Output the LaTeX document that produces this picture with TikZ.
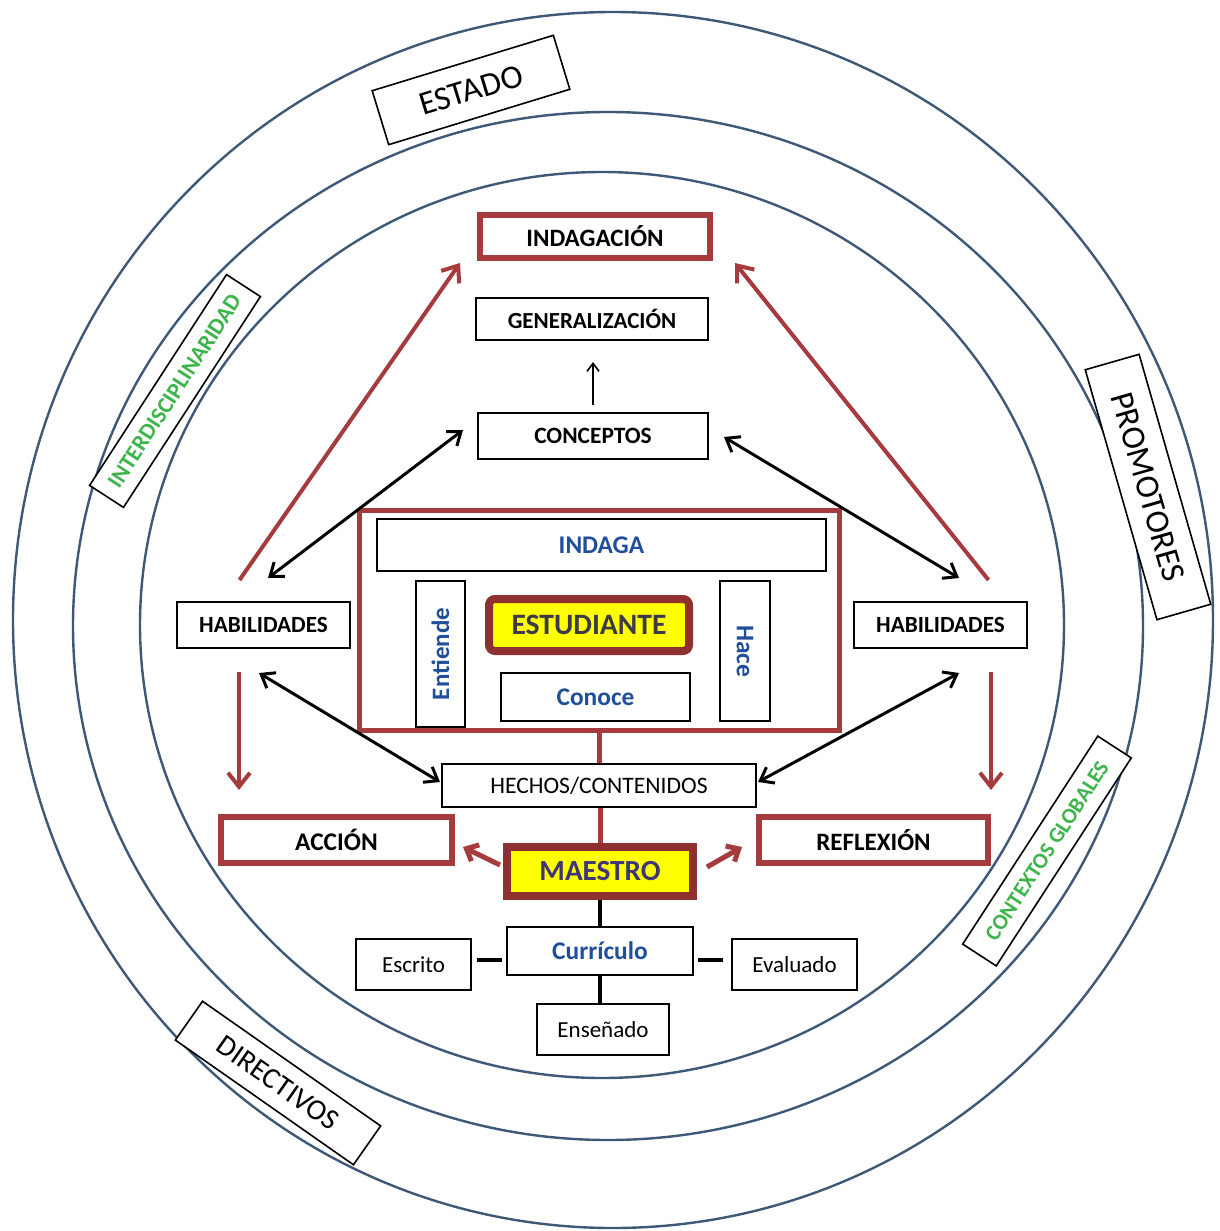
\documentclass[tikz,border=0pt]{standalone}
\usepackage{fontspec}
\setmainfont{Carlito}
\usetikzlibrary{arrows.meta,calc}
\definecolor{ring}{HTML}{3E5878}
\definecolor{rb}{HTML}{A53B3D}
\definecolor{rbd}{HTML}{8E2F30}
\definecolor{bl}{HTML}{1F4E9A}
\definecolor{gr}{HTML}{3DB54A}
\definecolor{ye}{HTML}{FFFF00}
\definecolor{mt}{HTML}{3D3575}
\definecolor{et}{HTML}{3C3A48}
\begin{document}
\begin{tikzpicture}[x=0.5pt,y=-0.5pt,
  ringline/.style={draw=ring,line width=1.2pt},
  bx/.style={draw=black,line width=1pt,fill=white,inner sep=0pt,text=black},
  rbox/.style={draw=rb,line width=3pt,fill=white,inner sep=0pt,text=black},
  ybox/.style={draw=rbd,line width=4pt,fill=ye,inner sep=0pt},
  ringlab/.style={draw=black,line width=0.8pt,fill=white,inner sep=0pt},
  bigred/.style={draw=rb,line width=2pt,-{Straight Barb[length=7pt,width=11pt]}},
  smallred/.style={draw=rb,line width=2.5pt,-{Straight Barb[length=5pt,width=9pt]}},
  dbl/.style={draw=black,line width=1.5pt,{Straight Barb[length=6pt,width=9pt]}-{Straight Barb[length=6pt,width=9pt]}},
  redlink/.style={draw=rb,line width=2.5pt},
  blklink/.style={draw=black,line width=2pt},
  bfs/.style={font=\fontsize{#1}{#1}\selectfont\bfseries},
  rfs/.style={font=\fontsize{#1}{#1}\selectfont}
]
\useasboundingbox[fill=white] (0,0) rectangle (1220,1231);

% rings
\draw[ringline] (613,620) ellipse [x radius=600, y radius=608];
\draw[ringline] (608,626) ellipse [x radius=535, y radius=514];
\draw[ringline] (602,625) ellipse [x radius=462, y radius=453];

% ring labels
\node[ringlab,rotate=17,minimum width=94.7pt,minimum height=28.2pt,rfs=16.7pt] (estado) at (471,90) {ESTADO};
\node[ringlab,rotate=-74,minimum width=130pt,minimum height=28pt,rfs=16.8pt] (promo) at (1148,487) {PROMOTORES};
\node[ringlab,rotate=-35,minimum width=108.7pt,minimum height=23.7pt,rfs=14.7pt] (direct) at (278,1083) {DIRECTIVOS};
\node[ringlab,rotate=57,minimum width=125.7pt,minimum height=20.2pt,bfs=11.5pt,text=gr] (inter) at (175,391) {INTERDISCIPLINARIDAD};
\node[ringlab,rotate=57,minimum width=124pt,minimum height=20pt,bfs=11pt,text=gr] (context) at (1047,851) {CONTEXTOS GLOBALES};

% top
\node[rbox,minimum width=115pt,minimum height=21.5pt,bfs=12.5pt] (indag) at (595,236.5) {INDAGACIÓN};
\node[bx,minimum width=116pt,minimum height=21pt,bfs=11.5pt] (gen) at (592,319) {GENERALIZACIÓN};
\node[bx,minimum width=115pt,minimum height=23pt,bfs=11.7pt] (conc) at (593,436) {CONCEPTOS};

% student frame
\node[draw=rb,line width=2.5pt,fill=white,minimum width=240pt,minimum height=110pt,inner sep=0pt] (frame) at (599.5,620.5) {};
\node[bx,minimum width=224.5pt,minimum height=26pt,bfs=12.7pt,text=bl] (indaga) at (601.5,545) {INDAGA};
\node[bx,rotate=90,minimum width=73pt,minimum height=24.5pt,bfs=12.5pt,text=bl] (entiende) at (440.5,654) {Entiende};
\node[bx,rotate=-90,minimum width=70pt,minimum height=25pt,bfs=12.7pt,text=bl] (hace) at (745,651) {Hace};
\node[ybox,rounded corners=3pt,minimum width=100pt,minimum height=26pt,bfs=14.8pt,text=et] (estud) at (589,625) {ESTUDIANTE};
\node[bx,minimum width=94.5pt,minimum height=24pt,bfs=12.7pt,text=bl] (conoce) at (595.5,697) {Conoce};

% sides
\node[bx,minimum width=86.5pt,minimum height=23pt,bfs=11.6pt] (habL) at (263.5,625) {HABILIDADES};
\node[bx,minimum width=86.5pt,minimum height=23pt,bfs=11.6pt] (habR) at (940.5,625) {HABILIDADES};
\node[bx,minimum width=157pt,minimum height=21.5pt,rfs=11.8pt] (hechos) at (599,785.5) {HECHOS/CONTENIDOS};
\node[rbox,minimum width=115.5pt,minimum height=23pt,bfs=12.7pt] (accion) at (336.5,840) {ACCIÓN};
\node[rbox,minimum width=114.5pt,minimum height=23pt,bfs=12.5pt] (reflex) at (873.5,840) {REFLEXIÓN};

% teacher and curriculum
\node[ybox,minimum width=93pt,minimum height=24.5pt,bfs=14.6pt,text=mt] (maestro) at (600,871.5) {MAESTRO};
\node[bx,minimum width=93pt,minimum height=24pt,bfs=12.7pt,text=bl] (curr) at (600,951) {Currículo};
\node[bx,minimum width=57.5pt,minimum height=25.5pt,rfs=11.5pt] (escrito) at (413.5,964.5) {Escrito};
\node[bx,minimum width=62.5pt,minimum height=25.5pt,rfs=11.5pt] (evaluado) at (794.5,964.5) {Evaluado};
\node[bx,minimum width=66pt,minimum height=25.5pt,rfs=11.5pt] (ensenado) at (603,1029.5) {Enseñado};

% connectors
\draw[draw=black,line width=0.8pt,-{Straight Barb[length=4pt,width=6pt]},shorten <=3.5pt,shorten >=10.5pt] (conc.north) -- (conc.north |- gen.south);
\draw[bigred] ($(habL.north)+(-24,-21)$) -- ($(indag.south west)+(-17,2)$);
\draw[bigred] ($(habR.north)+(48,-21)$) -- ($(indag.south east)+(22,2)$);
\draw[dbl] ($(habL.north)+(4.5,-23)$) -- ($(conc.west)+(-14,-6)$);
\draw[dbl] ($(habR.north)+(18.5,-23)$) -- ($(conc.east)+(15,1)$);
\draw[dbl] ($(habL.south)+(-4.5,24)$) -- ($(hechos.west)+(-1,-3.5)$);
\draw[dbl] ($(habR.south)+(18.5,24)$) -- ($(hechos.east)+(1,-3.5)$);
\draw[bigred] ($(habL.south)+(-24.5,23)$) -- ($(accion.north)+(-97.5,-24)$);
\draw[bigred] ($(habR.south)+(50.5,23)$) -- ($(reflex.north)+(117.5,-24)$);
\draw[redlink] (frame.south) -- (frame.south |- hechos.north);
\draw[redlink] (hechos.south -| maestro.north) -- (maestro.north);
\draw[smallred] ($(maestro.west)+(-3,-6.5)$) -- ($(accion.east)+(8,7)$);
\draw[smallred] ($(maestro.east)+(10,-4.5)$) -- ($(reflex.west)+(-14,7)$);
\draw[blklink] (maestro.south) -- (curr.north);
\draw[blklink] (curr.south) -- (curr.south |- ensenado.north);
\draw[blklink] ($(escrito.east)+(5,-4.5)$) -- ($(curr.west)+(-4,9)$);
\draw[blklink] ($(curr.east)+(4,9)$) -- ($(evaluado.west)+(-8,-4.5)$);
\end{tikzpicture}
\end{document}
